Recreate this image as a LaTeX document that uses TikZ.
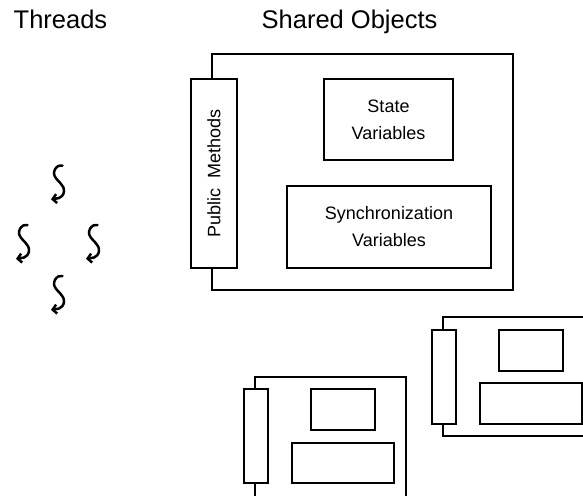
\documentclass[tikz,border=0pt]{standalone}
\usepackage{fontspec}
\setmainfont{Liberation Sans}
\usetikzlibrary{arrows.meta,fit}
\begin{document}
\begin{tikzpicture}[x=1pt,y=-1pt,
  box/.style={draw, line width=1.6pt, fill=white, inner sep=0pt},
  lbl/.style={font=\fontsize{18}{27}\selectfont, align=center},
  title/.style={font=\fontsize{25.5}{28}\selectfont, anchor=base west, inner sep=0pt},
  thr/.style={line width=2.5pt, line cap=round, -{Straight Barb[length=4pt,width=9pt]}},
  thread/.pic={\draw[thr] plot[smooth] coordinates {(5.5,-17) (1.3,-16.5) (-2,-13.2) (-3,-8.5) (-1,-4.2) (3,0.2) (6.3,4.8) (7,9.2) (5.3,13.2) (2,15.5) (-6,16.8)};}]
\useasboundingbox (0,0) rectangle (583,495);
\clip (0,0) rectangle (583,495);

% titles
\node[title] (tthreads) at (13.5,28.5) {Threads};
\node[title] (tshared) at (261.5,28.5) {Shared Objects};

% threads
\pic at (57,182.5) {thread};
\pic at (22,242) {thread};
\pic at (92,242) {thread};
\pic at (57,293) {thread};

% main shared object
\node[box, fit={(212,54) (513,290)}] (obj1) {};
\node[box, fit={(191,79) (237,268)}] (pm1) {};
\node[lbl, rotate=90] (pmtext) at (pm1.center) {Public\ \ Methods};
\node[box, fit={(324,79) (453,160)}] (state1) {};
\node[lbl] (statetext) at (state1.center) {State\\Variables};
\node[box, fit={(287,186) (491,268)}] (sync1) {};
\node[lbl] (synctext) at (sync1.center) {Synchronization\\Variables};

% right small object
\node[box, fit={(443,317) (600,436)}] (obj2) {};
\node[box, fit={(432,330) (456,424)}] (pm2) {};
\node[box, fit={(499,330) (563,371)}] (state2) {};
\node[box, fit={(480,383) (582,424)}] (sync2) {};

% lower small object
\node[box, fit={(255,377) (406,510)}] (obj3) {};
\node[box, fit={(244,389) (268,483)}] (pm3) {};
\node[box, fit={(311,389) (375,430)}] (state3) {};
\node[box, fit={(292,443) (394,483)}] (sync3) {};
\end{tikzpicture}
\end{document}
